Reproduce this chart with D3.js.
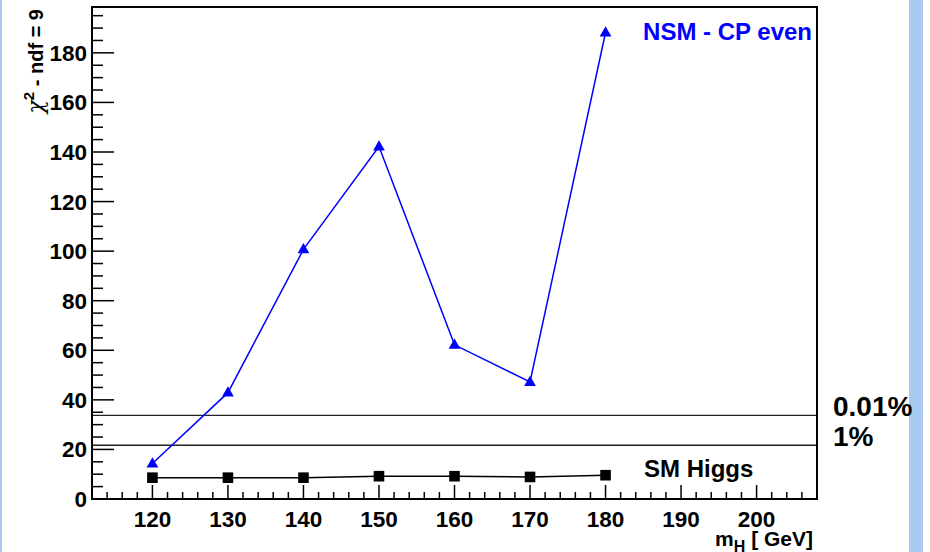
<!DOCTYPE html>
<html>
<head>
<meta charset="utf-8">
<script src="https://cdn.jsdelivr.net/npm/d3@7"></script>
<style>
  body { margin: 0; background: #fff; }
  svg { display: block; font-family: "Liberation Sans", Arial, sans-serif; font-weight: bold; }
</style>
</head>
<body>
<svg id="chart"></svg>
<script>
// Higgs mass points (GeV)
const masses = [120, 130, 140, 150, 160, 170, 180];
// chi2 values
const nsmCpEven = [14.3, 42.9, 100.7, 142.2, 62.2, 47.2, 188.2];
const smHiggs = [8.6, 8.6, 8.6, 9.2, 9.2, 8.9, 9.6];
// confidence level lines for ndf = 9
const clLines = [
  { label: "0.01%", value: 33.72 },
  { label: "1%", value: 21.67 }
];
const xTicks = [120, 130, 140, 150, 160, 170, 180, 190, 200];
const yTicks = [0, 20, 40, 60, 80, 100, 120, 140, 160, 180];

const width = 930, height = 552;
const margin = { top: 7, right: 113, bottom: 53, left: 92 };

const svg = d3.select("#chart").attr("width", width).attr("height", height);

// light blue side strips
svg.append("rect").attr("x", 0).attr("y", 0).attr("width", 2).attr("height", height).attr("fill", "#a8caf0");
svg.append("rect").attr("x", 909).attr("y", 0).attr("width", 14).attr("height", height).attr("fill", "#a8caf0");

const x = d3.scaleLinear().domain([112, 208]).range([margin.left, width - margin.right]);
const y = d3.scaleLinear().domain([0, 198.5]).range([height - margin.bottom, margin.top]);

const x0 = x.range()[0], x1 = x.range()[1];
const y0 = y.range()[0], y1 = y.range()[1];

// minor ticks
const xMinor = d3.range(114, 208, 2).filter(v => v % 10 !== 0);
const yMinor = d3.range(5, 198, 5).filter(v => v % 20 !== 0);

const g = svg.append("g");

g.selectAll(".xminor").data(xMinor).join("line")
  .attr("x1", d => x(d)).attr("x2", d => x(d))
  .attr("y1", y0).attr("y2", y0 - 7)
  .attr("stroke", "#000").attr("stroke-width", 1.5);
g.selectAll(".xmajor").data(xTicks).join("line")
  .attr("x1", d => x(d)).attr("x2", d => x(d))
  .attr("y1", y0).attr("y2", y0 - 14)
  .attr("stroke", "#000").attr("stroke-width", 1.5);
g.selectAll(".yminor").data(yMinor).join("line")
  .attr("x1", x0).attr("x2", x0 + 11)
  .attr("y1", d => y(d)).attr("y2", d => y(d))
  .attr("stroke", "#000").attr("stroke-width", 1.5);
g.selectAll(".ymajor").data(yTicks).join("line")
  .attr("x1", x0).attr("x2", x0 + 22)
  .attr("y1", d => y(d)).attr("y2", d => y(d))
  .attr("stroke", "#000").attr("stroke-width", 1.5);

// tick labels
g.selectAll(".xlab").data(xTicks).join("text")
  .attr("x", d => x(d)).attr("y", 527)
  .attr("text-anchor", "middle").attr("font-size", 22.5)
  .text(d => d);
g.selectAll(".ylab").data(yTicks).join("text")
  .attr("x", 87).attr("y", d => y(d) + 8)
  .attr("text-anchor", "end").attr("font-size", 22.5)
  .text(d => d);

// confidence level lines
g.selectAll(".cl").data(clLines).join("line")
  .attr("x1", x0).attr("x2", x1)
  .attr("y1", d => y(d.value)).attr("y2", d => y(d.value))
  .attr("stroke", "#222").attr("stroke-width", 1.4);
g.selectAll(".cllab").data(clLines).join("text")
  .attr("x", 833).attr("y", d => y(d.value) + 1)
  .attr("font-size", 28)
  .text(d => d.label);

// series lines
const line = d3.line().x(d => x(d[0])).y(d => y(d[1]));
const nsmData = d3.zip(masses, nsmCpEven);
const smData = d3.zip(masses, smHiggs);

g.append("path").datum(smData).attr("d", line)
  .attr("fill", "none").attr("stroke", "#000").attr("stroke-width", 1.5);
g.append("path").datum(nsmData).attr("d", line)
  .attr("fill", "none").attr("stroke", "#0000ff").attr("stroke-width", 1.5);

// markers
g.selectAll(".sq").data(smData).join("rect")
  .attr("x", d => x(d[0]) - 5.3).attr("y", d => y(d[1]) - 5.3)
  .attr("width", 10.6).attr("height", 10.6).attr("fill", "#000");
const tri = d3.symbol().type(d3.symbolTriangle).size(60);
g.selectAll(".tri").data(nsmData).join("path")
  .attr("d", tri)
  .attr("transform", d => `translate(${x(d[0])},${y(d[1]) + 0.5})`)
  .attr("fill", "#0000ff");

// frame
g.append("rect").attr("x", x0).attr("y", y1)
  .attr("width", x1 - x0).attr("height", y0 - y1)
  .attr("fill", "none").attr("stroke", "#000").attr("stroke-width", 2);

// legend-ish labels
svg.append("text").attr("x", 812).attr("y", 40).attr("text-anchor", "end")
  .attr("font-size", 24).attr("fill", "#0000ff").text("NSM - CP even");
svg.append("text").attr("x", 644).attr("y", 477)
  .attr("font-size", 24).attr("fill", "#000").text("SM Higgs");

// axis titles
const xt = svg.append("text").attr("x", 813).attr("y", 546)
  .attr("text-anchor", "end").attr("font-size", 21);
xt.append("tspan").text("m");
xt.append("tspan").attr("dy", 6).attr("font-size", 16).text("H");
xt.append("tspan").attr("dy", -6).text(" [ GeV]");

const yt = svg.append("text")
  .attr("transform", "translate(43,9) rotate(-90)")
  .attr("text-anchor", "end").attr("font-size", 20);
yt.append("tspan").attr("font-weight", "normal").attr("font-style", "italic")
  .attr("font-family", "DejaVu Serif").attr("font-size", 22).text("χ");
yt.append("tspan").attr("dy", -9).attr("font-size", 15).text("2");
yt.append("tspan").attr("dy", 9).text(" - ndf = 9");
</script>
</body>
</html>
